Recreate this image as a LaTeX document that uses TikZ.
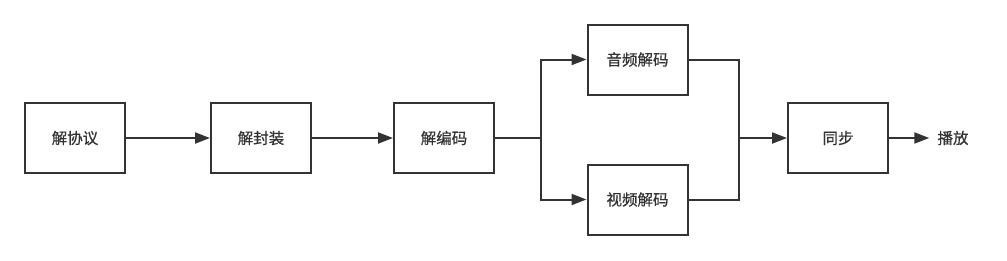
\documentclass[tikz,border=0pt]{standalone}
\usepackage{fontspec}
\newfontfamily\cjk[FakeBold=0.6]{Noto Sans CJK SC}
\usetikzlibrary{arrows.meta}
\definecolor{ink}{HTML}{333333}
\tikzset{
  x=1pt, y=-1pt,
  box/.style={draw=ink, line width=2pt, minimum width=100pt, minimum height=70pt, inner sep=0pt, font=\cjk\fontsize{15.5}{18}\selectfont, text=ink},
  lbl/.style={inner sep=0pt, font=\cjk\fontsize{15.5}{18}\selectfont, text=ink},
  conn/.style={draw=ink, line width=2pt},
  arr/.style={conn, -{Triangle[length=15pt, width=11pt]}}
}
\begin{document}
\begin{tikzpicture}
\useasboundingbox (0,0) rectangle (1007,260);
\node[box] (a) at (75,138) {解协议};
\node[box] (b) at (261,138) {解封装};
\node[box] (c) at (444,138) {解编码};
\node[box] (au) at (637.5,59.5) {音频解码};
\node[box] (vi) at (637.5,199.5) {视频解码};
\node[box] (s) at (838,138) {同步};
\node[lbl] (p) at (953,138) {播放};
\coordinate (br) at (541,138);
\coordinate (mg) at (739,138);
\draw[arr] (a) -- (b);
\draw[arr] (b) -- (c);
\draw[conn] (c) -- (br);
\draw[arr] (br) |- (au.west);
\draw[arr] (br) |- (vi.west);
\draw[conn] (au.east) -| (mg);
\draw[conn] (vi.east) -| (mg);
\draw[arr] (mg) -- (s);
\draw[arr] (s.east) -- ([xshift=-8pt]p.west);
\end{tikzpicture}
\end{document}
